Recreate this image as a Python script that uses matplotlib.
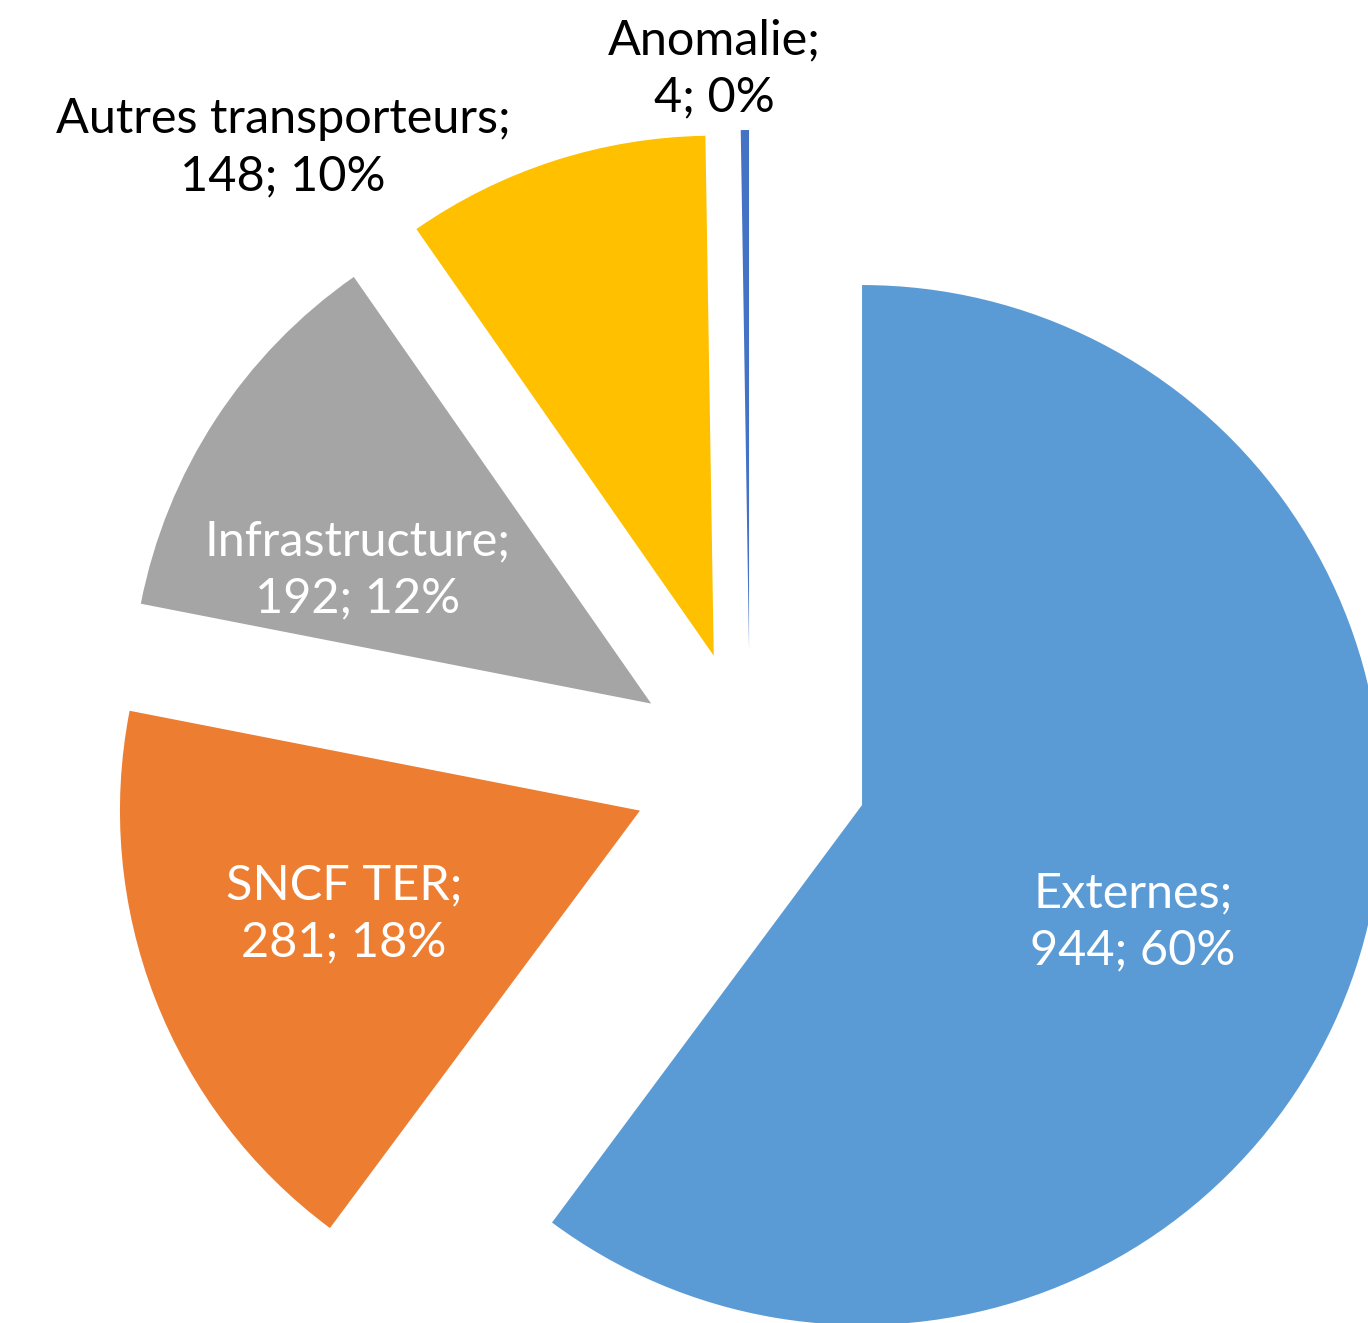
import numpy as np
import matplotlib.pyplot as plt

categories = ["Externes", "SNCF TER", "Infrastructure", "Autres transporteurs", "Anomalie"]
values = [944, 281, 192, 148, 4]
percents = [60, 18, 12, 10, 0]  # as printed on the chart
colors = ["#5B9BD5", "#ED7D31", "#A5A5A5", "#FFC000", "#4472C4"]
text_colors = ["white", "white", "white", "black", "black"]

# layout, in pixel units (y measured from the bottom)
W, H = 1368, 1323
center = (750, H - 768)
radius = 520
explode = 118
label_pos = [(1133, H - 922), (344, H - 914), (358, H - 570), (283, H - 148), (714, H - 69)]

plt.rcParams['font.family'] = ['Lato', 'DejaVu Sans']

fig = plt.figure(figsize=(W / 100, H / 100), dpi=100)
ax = fig.add_axes([0, 0, 1, 1])

ax.pie(values, colors=colors, startangle=90, counterclock=False,
       center=center, radius=radius, explode=[explode] * len(values),
       wedgeprops=dict(linewidth=0))

for name, v, pct, (x, y), c in zip(categories, values, percents, label_pos, text_colors):
    ax.text(x, y, f"{name};\n{v}; {pct}%", ha='center', va='center',
            fontsize=35, color=c, fontweight='normal', linespacing=1.38)

ax.set_xlim(0, W)
ax.set_ylim(0, H)
ax.set_aspect('equal')
ax.axis('off')

fig.savefig("out.png", dpi=100)
